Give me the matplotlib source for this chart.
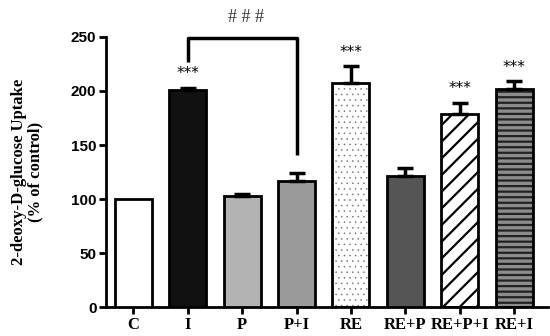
import matplotlib
matplotlib.use("Agg")
import matplotlib.pyplot as plt

categories = ["C", "I", "P", "P+I", "RE", "RE+P", "RE+P+I", "RE+I"]
values = [100, 201, 103, 117, 207, 121, 179, 202]
errors = [0, 2, 2, 7, 16, 8, 10, 7]
face_colors = ["white", "#111111", "#b3b3b3", "#9a9a9a", "white", "#555555", "white", "#8c8c8c"]
hatches = [None, None, None, None, "...", None, "//", "---"]
hatch_colors = [None, None, None, None, "#666666", None, "black", "#222222"]
hatch_widths = [1.0, 1.0, 1.0, 1.0, 0.3, 1.0, 1.6, 1.6]
star_labels = ["", "***", "", "", "***", "", "***", "***"]

fig = plt.figure(figsize=(5.5, 3.36), dpi=100)
ax = fig.add_axes([0.193, 0.086, 0.803, 0.804])

x = list(range(len(categories)))
w = 0.68
for i in x:
    if hatches[i]:
        with plt.rc_context({"hatch.linewidth": hatch_widths[i]}):
            ax.bar(i, values[i], w, color=face_colors[i], edgecolor=hatch_colors[i],
                   hatch=hatches[i], linewidth=0, zorder=2)
        ax.bar(i, values[i], w, fill=False, edgecolor="black", linewidth=2, zorder=3)
    else:
        ax.bar(i, values[i], w, color=face_colors[i], edgecolor="black", linewidth=2, zorder=3)
    if errors[i] > 0:
        ax.errorbar(i, values[i], yerr=[[0], [errors[i]]], fmt="none", ecolor="black",
                    elinewidth=2.5, capsize=6, capthick=2.5, zorder=4)
    if star_labels[i]:
        ax.text(i, values[i] + errors[i] + 6, star_labels[i], ha="center", va="bottom",
                fontsize=11, family="DejaVu Sans")

# bracket between I and P+I
ax.plot([1, 1, 3, 3], [227, 249, 249, 141], color="black", linewidth=2.5,
        clip_on=False, zorder=5, solid_capstyle="butt")
ax.text(2.07, 260, "# # #", ha="center", va="bottom", fontsize=13,
        family="Liberation Serif", color="#333333")

ax.set_xlim(-0.5, 7.62)
ax.set_ylim(0, 250)
ax.set_yticks([0, 50, 100, 150, 200, 250])
ax.set_xticks(x)
ax.set_xticklabels(categories, family="Liberation Serif", fontweight="bold", fontsize=12)
for lab in ax.get_yticklabels():
    lab.set_family("Liberation Sans")
    lab.set_fontweight("bold")
    lab.set_fontsize(11)
ax.spines["top"].set_visible(False)
ax.spines["right"].set_visible(False)
ax.spines["left"].set_linewidth(2)
ax.spines["bottom"].set_linewidth(2)
ax.tick_params(axis="both", width=2, length=5, direction="out", pad=2)
ax.set_ylabel("2-deoxy-D-glucose Uptake\n(% of control)", family="Liberation Serif",
              fontweight="bold", fontsize=12, labelpad=20, linespacing=1.0)

fig.savefig("out.png", dpi=100)
